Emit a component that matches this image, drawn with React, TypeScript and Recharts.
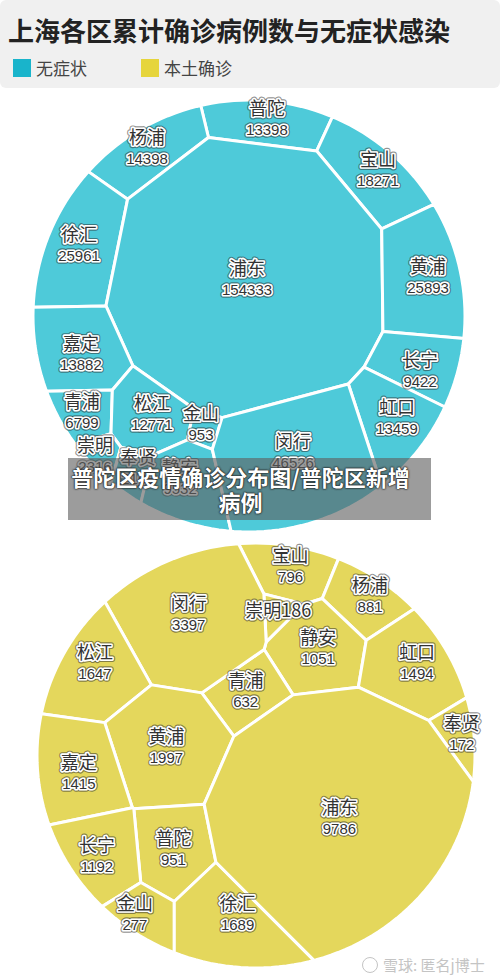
import React from "react";
import { ScatterChart, Scatter, XAxis, YAxis } from "recharts";

const TITLE = "上海各区累计确诊病例数与无症状感染";
const LEGEND = ["无症状", "本土确诊"];
const BANNER = ["普陀区疫情确诊分布图/普陀区新增", "病例"];
const WATERMARK = "雪球: 匿名j博士";

// 无症状 (teal) – site positions in chart units, circle radius = 100
const TEAL_NAMES = ["普陀", "杨浦", "宝山", "徐汇", "浦东", "黄浦", "嘉定", "长宁", "青浦", "松江", "金山", "虹口", "崇明", "奉贤", "静安", "闵行"];
const TEAL_VALUES = [13398, 14398, 18271, 25961, 154333, 25893, 13882, 9422, 6799, 12771, 953, 13459, 2316, 2108, 9532, 46526];
const TEAL_X = [8.3, -47.2, 59.7, -78.7, -0.9, 82.9, -77.8, 79.2, -77.3, -44.9, -22.2, 68.5, -71.3, -51.4, -31.9, 20.4];
const TEAL_Y = [-91.2, -77.8, -67.6, -32.9, -17.1, -18.1, 17.5, 25.5, 44.4, 45.4, 50.0, 47.2, 64.8, 70.4, 75.0, 63.0];

// 本土确诊 (yellow)
const YELLOW_NAMES = ["宝山", "杨浦", "崇明", "静安", "虹口", "青浦", "奉贤", "闵行", "松江", "黄浦", "嘉定", "普陀", "长宁", "金山", "徐汇", "浦东"];
const YELLOW_VALUES = [796, 881, 186, 1051, 1494, 632, 172, 3397, 1647, 1997, 1415, 951, 1192, 277, 1689, 9786];
const YELLOW_X = [15.8, 52.1, 10.2, 28.4, 73.5, -4.7, 94.0, -30.7, -73.5, -40.9, -80.9, -37.7, -72.6, -55.3, -8.4, 38.1];
const YELLOW_Y = [-89.3, -74.9, -68.4, -50.7, -43.3, -30.2, -10.2, -66.5, -43.3, -4.2, 8.4, 44.2, 47.4, 74.4, 74.4, 29.3];

const TEAL = "#4ecad9";
const TEAL_LEGEND = "#19b4cb";
const YELLOW = "#e4d75c";
const YELLOW_LEGEND = "#e6d53c";
const PAD = 12;

type Pt = [number, number];
type Site = { name: string; value: number; x: number; y: number; idx: number };

function buildSites(names: string[], values: number[], xs: number[], ys: number[]): Site[] {
  return names.map((name, i) => ({ name, value: values[i], x: xs[i], y: ys[i], idx: i }));
}

const CIRCLE: Pt[] = Array.from({ length: 180 }, (_, k) => {
  const a = (k / 180) * Math.PI * 2;
  return [100 * Math.cos(a), 100 * Math.sin(a)] as Pt;
});

// keep the part of poly where ax*x + ay*y <= b
function clip(poly: Pt[], ax: number, ay: number, b: number): Pt[] {
  const out: Pt[] = [];
  for (let k = 0; k < poly.length; k++) {
    const p = poly[k];
    const q = poly[(k + 1) % poly.length];
    const fp = ax * p[0] + ay * p[1] - b;
    const fq = ax * q[0] + ay * q[1] - b;
    if (fp <= 0) out.push(p);
    if ((fp < 0 && fq > 0) || (fp > 0 && fq < 0)) {
      const t = fp / (fp - fq);
      out.push([p[0] + t * (q[0] - p[0]), p[1] + t * (q[1] - p[1])]);
    }
  }
  return out;
}

// power diagram inside the disk, weight = share of the disk area / pi
function powerCells(sites: Site[]): Pt[][] {
  const total = sites.reduce((s, d) => s + d.value, 0);
  const w = sites.map((d) => (d.value / total) * 10000);
  return sites.map((si, i) => {
    let poly = CIRCLE;
    sites.forEach((sj, j) => {
      if (i === j || poly.length === 0) return;
      const ax = 2 * (sj.x - si.x);
      const ay = 2 * (sj.y - si.y);
      const b = sj.x * sj.x + sj.y * sj.y - si.x * si.x - si.y * si.y - w[j] + w[i];
      poly = clip(poly, ax, ay, b);
    });
    return poly;
  });
}

const labelBase = {
  textAnchor: "middle" as const,
  strokeLinejoin: "round" as const,
  paintOrder: "stroke",
};

function Label({ x, y, text, size, family }: { x: number; y: number; text: string; size: number; family: string }) {
  return (
    <g>
      <text {...labelBase} x={x} y={y} fontSize={size} fontFamily={family} fill="none" stroke="rgba(40,40,40,0.5)" strokeWidth={5.5}>
        {text}
      </text>
      <text {...labelBase} x={x} y={y} fontSize={size} fontFamily={family} fill="#333333" stroke="#ffffff" strokeWidth={3.2}>
        {text}
      </text>
    </g>
  );
}

function PowerCircle({
  sites,
  fill,
  width,
  height,
  inlineNames = [],
}: {
  sites: Site[];
  fill: string;
  width: number;
  height: number;
  inlineNames?: string[];
}) {
  const cells = powerCells(sites);
  const seen: Record<number, { cx: number; cy: number }> = {};
  const last = sites.length - 1;

  const cellShape = (props: any) => {
    const d: Site = props.payload ?? props;
    seen[d.idx] = { cx: props.cx, cy: props.cy };
    if (d.idx !== last) return <g />;
    // linear maps taken from the scales' output
    let a = 0, b = 0, c = 0, e = 0;
    sites.forEach((s, i) => {
      if (s.x < sites[a].x) a = i;
      if (s.x > sites[b].x) b = i;
      if (s.y < sites[c].y) c = i;
      if (s.y > sites[e].y) e = i;
    });
    if (!seen[a] || !seen[b] || !seen[c] || !seen[e]) return <g />;
    const sx = (seen[b].cx - seen[a].cx) / (sites[b].x - sites[a].x);
    const x0 = seen[a].cx - sx * sites[a].x;
    const sy = (seen[e].cy - seen[c].cy) / (sites[e].y - sites[c].y);
    const y0 = seen[c].cy - sy * sites[c].y;
    return (
      <g>
        {cells.map((poly, i) =>
          poly.length > 2 ? (
            <polygon
              key={i}
              points={poly.map((p) => `${x0 + sx * p[0]},${y0 + sy * p[1]}`).join(" ")}
              fill={fill}
              stroke="#ffffff"
              strokeWidth={3}
              strokeLinejoin="round"
            />
          ) : null
        )}
      </g>
    );
  };

  const labelShape = (props: any) => {
    const d: Site = props.payload ?? props;
    const { cx, cy } = props;
    if (inlineNames.includes(d.name)) {
      return <Label x={cx} y={cy + 7} text={`${d.name}${d.value}`} size={18} family='"Noto Sans CJK SC", sans-serif' />;
    }
    return (
      <g>
        <Label x={cx} y={cy - 4} text={d.name} size={18} family='"Noto Sans CJK SC", sans-serif' />
        <Label x={cx} y={cy + 16} text={String(d.value)} size={15} family='"Liberation Sans", Arial, sans-serif' />
      </g>
    );
  };

  return (
    <ScatterChart width={width + 2 * PAD} height={height + 2 * PAD} margin={{ top: PAD, right: PAD, bottom: PAD, left: PAD }}>
      <XAxis type="number" dataKey="x" domain={[-100, 100]} hide />
      <YAxis type="number" dataKey="y" domain={[-100, 100]} reversed hide />
      <Scatter data={sites} shape={cellShape} isAnimationActive={false} />
      <Scatter data={sites} shape={labelShape} isAnimationActive={false} />
    </ScatterChart>
  );
}

export default function App() {
  const teal = buildSites(TEAL_NAMES, TEAL_VALUES, TEAL_X, TEAL_Y);
  const yellow = buildSites(YELLOW_NAMES, YELLOW_VALUES, YELLOW_X, YELLOW_Y);
  return (
    <div
      style={{
        position: "absolute",
        left: 0,
        top: 0,
        width: 500,
        height: 980,
        background: "#ffffff",
        overflow: "hidden",
        fontFamily: '"Noto Sans CJK SC", sans-serif',
      }}
    >
      <div style={{ position: "absolute", left: 0, top: 0, width: 500, height: 88, background: "#f0f0f0", borderRadius: 6 }}>
        <div style={{ position: "absolute", left: 8, top: 15, fontSize: 26, lineHeight: "30px", fontWeight: 700, color: "#222", whiteSpace: "nowrap" }}>
          {TITLE}
        </div>
        {LEGEND.map((t, i) => (
          <div key={t} style={{ position: "absolute", left: 13 + i * 128, top: 59, display: "flex", alignItems: "center", height: 18 }}>
            <div style={{ width: 18, height: 18, background: i === 0 ? TEAL_LEGEND : YELLOW_LEGEND }} />
            <div style={{ marginLeft: 5, fontSize: 17, lineHeight: "18px", color: "#444" }}>{t}</div>
          </div>
        ))}
      </div>

      <div style={{ position: "absolute", left: 33 - PAD, top: 100 - PAD }}>
        <PowerCircle sites={teal} fill={TEAL} width={432} height={432} />
      </div>

      <div style={{ position: "absolute", left: 37 - PAD, top: 543 - PAD }}>
        <PowerCircle sites={yellow} fill={YELLOW} width={438} height={425} inlineNames={["崇明"]} />
      </div>

      <div style={{ position: "absolute", left: 68, top: 458, width: 363, height: 62, background: "rgba(95,95,95,0.62)" }}>
        <div
          style={{
            position: "absolute",
            left: 0,
            top: 6,
            width: 345,
            textAlign: "center",
            fontSize: 22,
            lineHeight: "25px",
            fontWeight: 700,
            color: "#ffffff",
            textShadow: "0 0 2px #222, 0 0 2px #222, 0 0 1px #222",
          }}
        >
          <div style={{ whiteSpace: "nowrap" }}>{BANNER[0]}</div>
          <div>{BANNER[1]}</div>
        </div>
      </div>

      <div style={{ position: "absolute", left: 362, top: 955, display: "flex", alignItems: "center", color: "#c4c4c4", fontSize: 15, lineHeight: "20px" }}>
        <div style={{ width: 14, height: 14, borderRadius: "50%", border: "1.5px solid #c4c4c4", marginRight: 5 }} />
        <div style={{ whiteSpace: "nowrap" }}>{WATERMARK}</div>
      </div>
    </div>
  );
}
